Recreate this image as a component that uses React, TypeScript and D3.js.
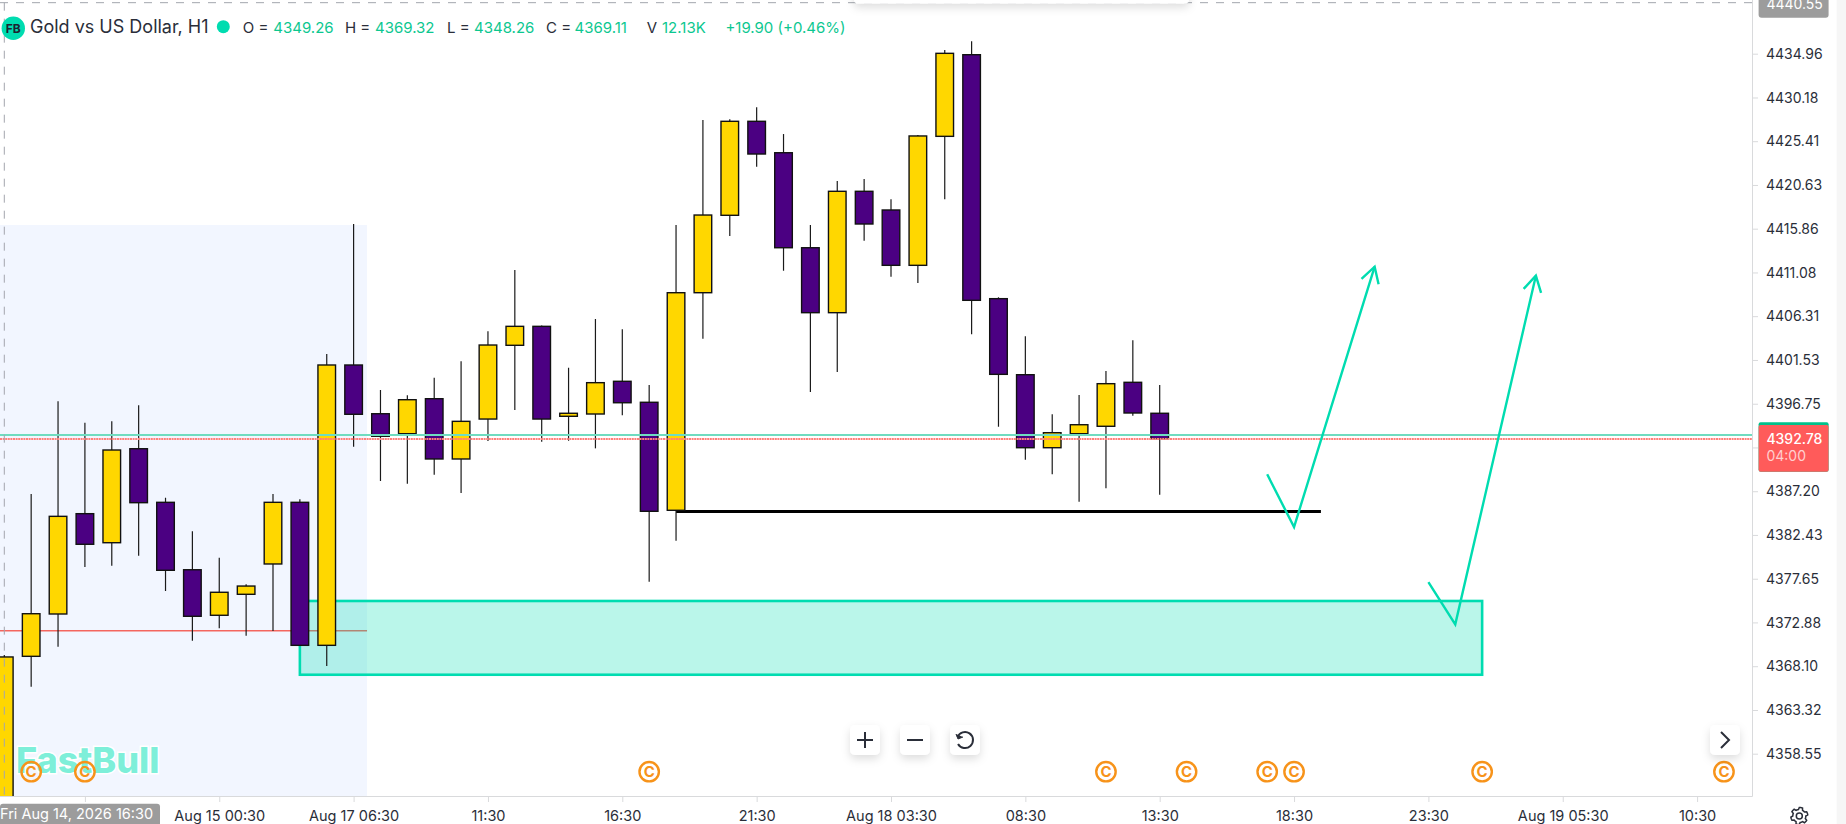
import { useEffect, useRef } from 'react'
import * as d3 from 'd3'

const opens = [4349.26, 4369.18, 4373.80, 4384.75, 4381.58, 4391.84, 4385.99, 4378.63, 4373.66, 4375.95, 4379.26, 4385.99, 4370.38, 4400.98, 4395.66, 4393.48, 4397.30, 4390.72, 4395.08, 4403.13, 4405.20, 4395.38, 4395.63, 4399.20, 4396.91, 4385.12, 4408.87, 4417.32, 4427.58, 4424.15, 4413.78, 4406.69, 4419.94, 4417.90, 4411.86, 4425.94, 4434.85, 4408.22, 4399.92, 4391.95, 4393.48, 4394.29, 4399.09, 4395.71]
const highs = [4369.32, 4386.90, 4397.02, 4394.68, 4394.83, 4396.58, 4386.49, 4382.83, 4379.94, 4377.04, 4386.90, 4386.32, 4402.18, 4416.37, 4398.25, 4397.67, 4399.59, 4401.38, 4404.66, 4411.35, 4405.30, 4400.68, 4406.00, 4404.88, 4398.80, 4416.26, 4427.72, 4427.80, 4429.11, 4426.19, 4416.26, 4421.06, 4421.28, 4419.07, 4426.09, 4435.36, 4436.31, 4408.37, 4404.11, 4395.60, 4397.70, 4400.32, 4403.67, 4398.80]
const lows = [4348.26, 4365.86, 4370.23, 4378.93, 4379.07, 4380.16, 4376.31, 4370.88, 4372.24, 4371.43, 4371.94, 4370.30, 4368.12, 4392.06, 4388.32, 4388.02, 4389.00, 4387.01, 4392.68, 4396.07, 4392.61, 4392.71, 4391.88, 4395.49, 4377.32, 4381.80, 4403.85, 4415.06, 4422.62, 4411.27, 4398.03, 4400.21, 4414.55, 4410.62, 4409.93, 4419.07, 4404.33, 4394.24, 4390.64, 4389.05, 4386.06, 4387.52, 4395.44, 4386.82]
const closes = [4369.11, 4373.83, 4384.46, 4381.41, 4391.70, 4385.95, 4378.57, 4373.55, 4376.17, 4376.85, 4385.99, 4370.38, 4400.98, 4395.60, 4393.20, 4397.19, 4390.72, 4394.83, 4403.16, 4405.20, 4395.08, 4395.71, 4399.05, 4396.86, 4385.01, 4408.87, 4417.35, 4427.58, 4424.01, 4413.78, 4406.69, 4419.94, 4416.37, 4411.86, 4425.98, 4435.00, 4408.04, 4399.96, 4391.95, 4393.59, 4394.46, 4398.94, 4395.74, 4392.93]

const priceTicks = [4434.96, 4430.18, 4425.41, 4420.63, 4415.86, 4411.08, 4406.31, 4401.53, 4396.75, 4387.20, 4382.43, 4377.65, 4372.88, 4368.10, 4363.32, 4358.55]
const hiddenPriceTick = 4391.98

const timeTicks = [3, 8, 13, 18, 23, 28, 33, 38, 43, 48, 53, 58, 63]
const timeLabels = ['', 'Aug 15 00:30', 'Aug 17 06:30', '11:30', '16:30', '21:30', 'Aug 18 03:30', '08:30', '13:30', '18:30', '23:30', 'Aug 19 05:30', '10:30']

const legendItems = [
  { label: 'O =', value: '4349.26', lx: 242.7, vx: 273.3 },
  { label: 'H =', value: '4369.32', lx: 345, vx: 375 },
  { label: 'L =', value: '4348.26', lx: 447, vx: 474 },
  { label: 'C =', value: '4369.11', lx: 546, vx: 574.5 },
  { label: 'V', value: '12.13K', lx: 646.7, vx: 662 },
  { label: '', value: '+19.90 (+0.46%)', lx: 725, vx: 725.4 }
]

const eventMarkers = [1, 3, 24, 41, 44, 47, 48, 55, 64]

const bandPrice = 4416.26
const bandEnd = 13.5
const sessionLine = 4371.98
const levelLine = { from: 25, to: 49, price: 4385.0 }
const zone = { from: 11, to: 55, top: 4375.22, bottom: 4367.17 }
const arrows = [
  [[47, 4389.05], [48, 4383.29], [51, 4411.71]],
  [[53, 4377.29], [54, 4372.67], [57, 4410.73]]
]
const askLine = 4393.34
const bidLine = 4392.9
const crosshairIndex = 0
const crosshairPrice = 4440.53

const TEAL = '#00dcb0'
const TEXT = '#2a2e39'
const FONT = 'Inter, "Noto Sans", sans-serif'

const W = 1846
const H = 824
const plotRight = 1752.5
const plotBottom = 796.5

export default function App() {
  const svgRef = useRef<SVGSVGElement>(null)

  useEffect(() => {
    if (!svgRef.current) return
    document.body.style.margin = '0'

    const svg = d3.select(svgRef.current)
    svg.selectAll('*').remove()

    const x = d3.scaleLinear().domain([0, 43]).range([4.3, 1159.7])
    const y = d3.scaleLinear().domain([4434.96, 4358.55]).range([53.7, 753.7])

    const defs = svg.append('defs')
    defs.append('clipPath').attr('id', 'plot')
      .append('rect').attr('width', plotRight).attr('height', plotBottom)
    const shadow = defs.append('filter').attr('id', 'btn-shadow')
      .attr('x', '-40%').attr('y', '-40%').attr('width', '180%').attr('height', '190%')
    shadow.append('feDropShadow').attr('dx', 0).attr('dy', 4).attr('stdDeviation', 4)
      .attr('flood-color', '#000').attr('flood-opacity', 0.13)

    svg.append('rect').attr('width', W).attr('height', H).attr('fill', '#fff')
    svg.append('rect').attr('x', 1836.7).attr('width', W - 1836.7).attr('height', H).attr('fill', '#f6f6f6')

    const plot = svg.append('g').attr('clip-path', 'url(#plot)')

    // Background band and the short session line
    plot.append('rect')
      .attr('x', 0).attr('y', y(bandPrice))
      .attr('width', x(bandEnd)).attr('height', plotBottom - y(bandPrice))
      .attr('fill', '#f2f6ff')
    plot.append('line')
      .attr('x1', 0).attr('x2', x(bandEnd))
      .attr('y1', y(sessionLine)).attr('y2', y(sessionLine))
      .attr('stroke', '#f4665f').attr('stroke-width', 1.5)

    // Demand zone
    plot.append('rect')
      .attr('x', x(zone.from)).attr('y', y(zone.top))
      .attr('width', x(zone.to) - x(zone.from)).attr('height', y(zone.bottom) - y(zone.top))
      .attr('fill', TEAL).attr('fill-opacity', 0.27)
      .attr('stroke', TEAL).attr('stroke-width', 2.6)

    plot.append('line')
      .attr('x1', x(levelLine.from)).attr('x2', x(levelLine.to))
      .attr('y1', y(levelLine.price)).attr('y2', y(levelLine.price))
      .attr('stroke', '#000').attr('stroke-width', 3)

    // Candles
    const candles = plot.selectAll('.candle')
      .data(d3.range(opens.length))
      .enter()
      .append('g')
      .attr('class', 'candle')

    candles.append('line')
      .attr('x1', d => x(d)).attr('x2', d => x(d))
      .attr('y1', d => y(highs[d])).attr('y2', d => y(lows[d]))
      .attr('stroke', '#1a1a1a').attr('stroke-width', 1.2)

    candles.append('rect')
      .attr('x', d => x(d) - 8.8)
      .attr('width', 17.6)
      .attr('y', d => y(Math.max(opens[d], closes[d])))
      .attr('height', d => Math.abs(y(opens[d]) - y(closes[d])))
      .attr('fill', d => closes[d] >= opens[d] ? '#ffd700' : '#4b0082')
      .attr('stroke', '#111').attr('stroke-width', 1.4)

    // Price lines
    plot.append('line')
      .attr('x1', 0).attr('x2', plotRight)
      .attr('y1', y(askLine)).attr('y2', y(askLine))
      .attr('stroke', '#6fdcc0').attr('stroke-width', 1.8)
    plot.append('line')
      .attr('x1', 0).attr('x2', plotRight)
      .attr('y1', y(bidLine)).attr('y2', y(bidLine))
      .attr('stroke', '#ff7f7a').attr('stroke-width', 1.8).attr('stroke-dasharray', '2 0.6')

    // Projected path arrows
    const arrowLine = d3.line<number[]>().x(d => x(d[0])).y(d => y(d[1]))
    arrows.forEach(pts => {
      plot.append('path')
        .attr('d', arrowLine(pts))
        .attr('fill', 'none').attr('stroke', TEAL).attr('stroke-width', 2.4)
      const [fx, fy] = [x(pts[1][0]), y(pts[1][1])]
      const [tx, ty] = [x(pts[2][0]), y(pts[2][1])]
      const angle = Math.atan2(fy - ty, fx - tx)
      const head = [-0.52, 0.52].map(a => [tx + 18 * Math.cos(angle + a), ty + 18 * Math.sin(angle + a)])
      plot.append('path')
        .attr('d', d3.line()([head[0] as [number, number], [tx, ty], head[1] as [number, number]]))
        .attr('fill', 'none').attr('stroke', TEAL).attr('stroke-width', 2.4)
    })

    // Watermark
    plot.append('text')
      .attr('x', 16).attr('y', 773)
      .attr('font-family', FONT).attr('font-weight', 800).attr('font-size', 36)
      .attr('fill', '#7eefd9')
      .attr('stroke', '#fff').attr('stroke-width', 3).attr('paint-order', 'stroke')
      .text('FastBull')

    // Event markers
    const markers = plot.selectAll('.event')
      .data(eventMarkers)
      .enter()
      .append('g')
      .attr('class', 'event')
      .attr('transform', d => `translate(${x(d)},771.7)`)
    markers.append('circle')
      .attr('r', 9.7).attr('fill', 'none').attr('stroke', '#f7931a').attr('stroke-width', 2.4)
    markers.append('text')
      .attr('text-anchor', 'middle').attr('y', 5.3)
      .attr('font-family', FONT).attr('font-weight', 700).attr('font-size', 15)
      .attr('fill', '#f7931a')
      .text('C')

    // Crosshair
    const cross = svg.append('g').attr('stroke', '#a3a6ad').attr('stroke-width', 1).attr('stroke-dasharray', '8 8')
    cross.append('line')
      .attr('x1', x(crosshairIndex)).attr('x2', x(crosshairIndex))
      .attr('y1', y(crosshairPrice)).attr('y2', plotBottom)
    cross.append('line')
      .attr('x1', 0).attr('x2', plotRight)
      .attr('y1', y(crosshairPrice)).attr('y2', y(crosshairPrice))

    // Clipped toolbar at the top edge
    svg.append('rect')
      .attr('x', 854).attr('y', -30).attr('width', 335).attr('height', 33.5).attr('rx', 4)
      .attr('fill', '#fff').attr('filter', 'url(#btn-shadow)')

    // Axes
    const yAxis = svg.append('g')
      .attr('transform', `translate(${plotRight},0)`)
      .call(d3.axisRight(y)
        .tickValues([...priceTicks, hiddenPriceTick])
        .tickFormat(d => priceTicks.includes(d as number) ? (d as number).toFixed(2) : '')
        .tickSize(5.5).tickPadding(8))
    yAxis.select('.domain').attr('d', `M0,0V${plotBottom}`)

    const xAxis = svg.append('g')
      .attr('transform', `translate(0,${plotBottom})`)
      .call(d3.axisBottom(x)
        .tickValues(timeTicks)
        .tickFormat((_, i) => timeLabels[i])
        .tickSize(5.5).tickPadding(9))
    xAxis.select('.domain').attr('d', `M0,0H${plotRight}`)

    ;[yAxis, xAxis].forEach(axis => {
      axis.selectAll('.domain').attr('stroke', '#d9dadc')
      axis.selectAll('.tick line').attr('stroke', '#d9dadc')
    })
    yAxis.selectAll('.tick text')
      .attr('font-family', FONT).attr('font-size', 14).attr('dy', '0.34em').attr('fill', TEXT)
    xAxis.selectAll('.tick text')
      .attr('font-family', FONT).attr('font-size', 14.5).attr('fill', TEXT)

    // Axis readouts
    svg.append('rect')
      .attr('x', 0).attr('y', 803.7).attr('width', 160).attr('height', 24).attr('rx', 3)
      .attr('fill', '#9c9c9c')
    svg.append('text')
      .attr('x', 0).attr('y', 819)
      .attr('font-family', FONT).attr('font-size', 14.5).attr('fill', '#fff')
      .text('Fri Aug 14, 2026 16:30')

    svg.append('rect')
      .attr('x', 1758.6).attr('y', -6).attr('width', 70).attr('height', 23.7).attr('rx', 3)
      .attr('fill', '#9c9c9c')
    svg.append('text')
      .attr('x', 1766.4).attr('y', 9)
      .attr('font-family', FONT).attr('font-size', 14).attr('fill', '#fff')
      .text('4440.55')

    svg.append('rect')
      .attr('x', 1758.6).attr('y', 422.3).attr('width', 70).attr('height', 49.4).attr('rx', 2)
      .attr('fill', '#00c08b')
    svg.append('rect')
      .attr('x', 1758.6).attr('y', 425).attr('width', 70).attr('height', 46.7).attr('rx', 2)
      .attr('fill', '#ff5b5a')
    svg.append('text')
      .attr('x', 1766.4).attr('y', 444)
      .attr('font-family', FONT).attr('font-weight', 500).attr('font-size', 14).attr('fill', '#fff')
      .text('4392.78')
    svg.append('text')
      .attr('x', 1766.4).attr('y', 461)
      .attr('font-family', FONT).attr('font-size', 14).attr('fill', '#fff').attr('fill-opacity', 0.72)
      .text('04:00')

    // Legend
    const legend = svg.append('g').attr('font-family', FONT).attr('font-size', 15)
    legend.append('circle').attr('cx', 13.3).attr('cy', 28.3).attr('r', 11.7).attr('fill', TEAL)
    legend.append('text')
      .attr('x', 13.3).attr('y', 33).attr('text-anchor', 'middle')
      .attr('font-weight', 700).attr('font-size', 12).attr('fill', '#1c2230')
      .text('FB')
    legend.append('text')
      .attr('x', 30).attr('y', 33).attr('font-size', 18).attr('fill', TEXT)
      .text('Gold vs US Dollar, H1')
    legend.append('circle').attr('cx', 223.3).attr('cy', 26.7).attr('r', 6.5).attr('fill', TEAL)
    legendItems.forEach(item => {
      legend.append('text').attr('x', item.lx).attr('y', 32.5).attr('fill', TEXT).text(item.label)
      legend.append('text').attr('x', item.vx).attr('y', 32.5).attr('fill', '#0cc790').text(item.value)
    })

    // Zoom buttons
    const button = (cx: number) => {
      const g = svg.append('g').attr('transform', `translate(${cx},740)`)
      g.append('rect')
        .attr('x', -15).attr('y', -15).attr('width', 30).attr('height', 30).attr('rx', 5)
        .attr('fill', '#fff').attr('filter', 'url(#btn-shadow)')
      return g.append('g').attr('fill', 'none').attr('stroke', TEXT).attr('stroke-width', 2)
    }
    button(865).append('path').attr('d', 'M-8,0H8M0,-8V8')
    button(915).append('path').attr('d', 'M-8,0H8')
    const reset = button(965)
    reset.append('path').attr('d', d3.arc()({
      innerRadius: 8, outerRadius: 8, startAngle: -1.2, endAngle: 4.2
    } as d3.DefaultArcObject))
    reset.append('path').attr('d', 'M-9,-6L-7,-1L-2,-3').attr('fill', TEXT).attr('stroke-width', 1)
    button(1725).append('path').attr('d', 'M-4,-8L4,0L-4,8')

    // Settings gear
    const gear = svg.append('g')
      .attr('transform', 'translate(1799.3,816)')
      .attr('fill', 'none').attr('stroke', TEXT).attr('stroke-width', 1.5)
    const gearRadii = d3.range(48).map(i => [i / 48 * 2 * Math.PI, i % 8 < 4 ? 8.5 : 6.5] as [number, number])
    gear.append('path').attr('d', d3.lineRadial().curve(d3.curveLinearClosed)(gearRadii))
    gear.append('circle').attr('r', 3)
  }, [])

  return (
    <svg
      ref={svgRef}
      width={W}
      height={H}
      style={{ position: 'absolute', left: 0, top: 0, display: 'block' }}
    />
  )
}
